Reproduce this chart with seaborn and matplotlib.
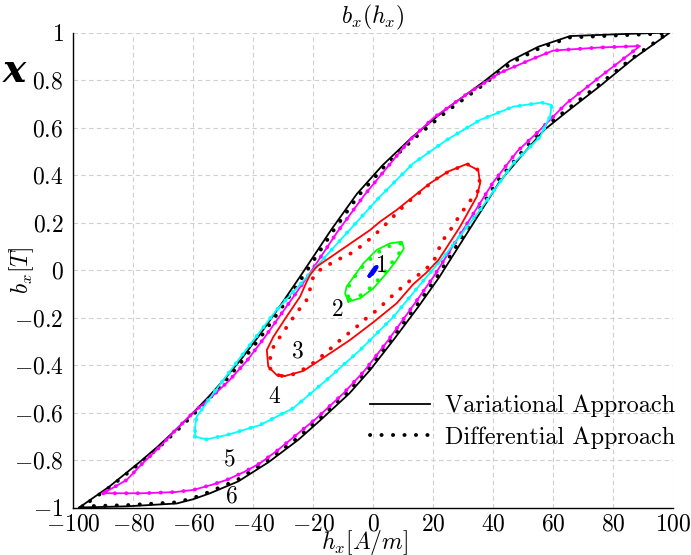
import numpy as np
import pandas as pd
import matplotlib
matplotlib.use("Agg")
import matplotlib.pyplot as plt
import seaborn as sns
from matplotlib.lines import Line2D

# ---------------- data ----------------
# loop 6 (black) : ascending branch then descending branch
loop6_h = [-98, -82, -65.5, -60, -54.4, -45, -35, -25, -17, -8, -1, 7, 15, 22, 28, 35, 42, 50, 57, 64.4, 75.6, 86.7, 98.9,
           82, 65.6, 55, 45.6, 36, 24, 13, 3, -5.5, -14, -24, -31, -38, -44, -50, -55, -60, -66, -72, -78, -88, -98]
loop6_b = [-1.0, -0.995, -0.983, -0.965, -0.94, -0.89, -0.81, -0.715, -0.625, -0.52, -0.42, -0.29, -0.155, -0.03, 0.09, 0.23, 0.37, 0.49, 0.59, 0.665, 0.775, 0.89, 1.0,
           0.993, 0.985, 0.94, 0.88, 0.785, 0.675, 0.56, 0.44, 0.32, 0.17, -0.02, -0.15, -0.275, -0.375, -0.465, -0.535, -0.6, -0.675, -0.745, -0.81, -0.912, -1.0]
loop6d_h = [-97, -82, -65.5, -60, -54.8, -45.5, -35.5, -25.5, -17.5, -8.5, -1.5, 6.4, 14.4, 21.4, 27.4, 34.4, 41.4, 49.4, 56.4, 64, 75, 86.3, 98,
            82, 65.5, 55.4, 46.2, 36.6, 24.6, 13.6, 3.6, -4.9, -13.4, -23.4, -30.4, -37.4, -43.5, -49.5, -54.6, -59.6, -65.6, -71.6, -77.6, -87.6, -97]
loop6d_b = [-0.995, -0.99, -0.978, -0.96, -0.935, -0.885, -0.805, -0.71, -0.62, -0.515, -0.415, -0.285, -0.15, -0.025, 0.095, 0.235, 0.375, 0.495, 0.595, 0.67, 0.778, 0.892, 0.996,
            0.988, 0.979, 0.934, 0.874, 0.779, 0.669, 0.554, 0.434, 0.314, 0.164, -0.026, -0.156, -0.28, -0.38, -0.47, -0.54, -0.604, -0.678, -0.748, -0.812, -0.912, -0.996]

# loop 5 (magenta)
loop5_h = [-90, -76.7, -66, -60, -54, -48.9, -43, -37.8, -32, -26.7, -19, -10, -3, 5, 13, 20, 26, 33, 40, 48, 55.6, 64.4, 75.6, 88.9,
           75.6, 60, 53.3, 42.2, 31.1, 20, 12, 4.5, -3, -12, -22, -29, -36, -42, -48, -54, -60, -66, -71.1, -77, -82.2, -90]
loop5_b = [-0.94, -0.94, -0.935, -0.926, -0.905, -0.884, -0.85, -0.814, -0.76, -0.705, -0.625, -0.52, -0.425, -0.295, -0.155, -0.03, 0.09, 0.23, 0.37, 0.5, 0.59, 0.702, 0.814, 0.943,
           0.937, 0.924, 0.89, 0.83, 0.74, 0.64, 0.545, 0.43, 0.315, 0.16, -0.03, -0.155, -0.28, -0.38, -0.465, -0.535, -0.6, -0.675, -0.744, -0.815, -0.884, -0.94]
loop5d_h = loop5_h
loop5d_b = loop5_b

# loop 4 (cyan)
loop4_h = [-59.4, -55.6, -48.9, -37.8, -26.7, -15.6, -4.4, 6.7, 17.8, 24.4, 35.6, 46.7, 55.6, 57.8, 58.9, 59.5,
           56.1, 46.7, 35.6, 24.4, 13.3, 2.2, -8.9, -20, -32.2, -43.3, -53.3, -58.9, -59.4, -59.4]
loop4_b = [-0.702, -0.713, -0.695, -0.653, -0.582, -0.463, -0.337, -0.197, -0.028, 0.07, 0.253, 0.449, 0.561, 0.618, 0.646, 0.695,
           0.705, 0.688, 0.632, 0.547, 0.449, 0.309, 0.155, 0.0, -0.168, -0.351, -0.519, -0.618, -0.66, -0.702]
loop4d_h = loop4_h
loop4d_b = loop4_b

# loop 3 (red)
loop3_h = [-29.4, -23.3, -15.5, -7.8, 0, 7.8, 13.3, 17.8, 21.7, 23.9, 28.9, 34.5, 35.6, 35, 31.1,
           25, 18.9, 7.8, 2.2, -1.1, -10, -18.9, -21.1, -22.2, -24.4, -28.9, -33.3, -35.5, -35, -32.2, -29.4]
loop3_b = [-0.446, -0.425, -0.36, -0.295, -0.22, -0.14, -0.06, -0.01, 0.042, 0.084, 0.182, 0.309, 0.365, 0.42, 0.446,
           0.415, 0.365, 0.253, 0.203, 0.168, 0.091, 0.014, -0.021, -0.049, -0.112, -0.196, -0.281, -0.337, -0.407, -0.442, -0.446]
loop3d_h = [-30.5, -27.2, -23.3, -19.4, -15.5, -11.7, -8.3, -4.4, -1.7, 1.7, 4.4, 8.9, 11.7, 15, 17.8, 20.6, 21.7, 22.8, 25.3, 28.9, 32.2, 35.6, 35.3, 34.5, 31.1,
            27.8, 24.5, 21.3, 18.7, 15.8, 13.1, 10.5, 7.8, 5.3, 2.8, -3, -8.3, -12.2, -15, -17.8, -20, -20.6, -21.1, -22.2, -24.7, -26.9, -28.9, -30.9, -33.1, -35, -33.3, -30.5]
loop3d_b = [-0.446, -0.442, -0.418, -0.386, -0.345, -0.302, -0.267, -0.227, -0.196, -0.165, -0.13, -0.08, -0.05, -0.021, 0.007, 0.049, 0.084, 0.119, 0.161, 0.232, 0.29, 0.344, 0.39, 0.432, 0.446,
            0.428, 0.41, 0.386, 0.361, 0.33, 0.302, 0.274, 0.239, 0.208, 0.175, 0.11, 0.063, 0.042, 0.021, 0.0, -0.028, -0.056, -0.081, -0.126, -0.166, -0.204, -0.241, -0.278, -0.316, -0.4, -0.438, -0.446]

# loop 2 (green)
loop2_h = [-8.3, -4.4, 0, 4.4, 7.8, 10.2, 9.5, 5.5, 1.1, -3.3, -6.1, -8.9, -9.4, -8.3]
loop2_b = [-0.133, -0.119, -0.077, -0.014, 0.042, 0.091, 0.119, 0.112, 0.084, 0.028, -0.021, -0.07, -0.098, -0.133]
loop2d_h = [-7.8, -4.0, 0, 4.0, 7.2, 9.8, 9.0, 5.2, 1.0, -3.3, -6.3, -8.5, -8.8, -7.8]
loop2d_b = [-0.125, -0.105, -0.065, -0.005, 0.048, 0.09, 0.112, 0.1, 0.07, 0.018, -0.03, -0.075, -0.1, -0.125]

# loop 1 (blue)
loop1_h = [-1.3, -0.3, 0.7, 1.2, 0.6, -0.4, -1.3]
loop1_b = [-0.025, -0.018, 0.0, 0.015, 0.012, -0.005, -0.025]
loop1d_h = loop1_h
loop1d_b = loop1_b

loop_colors = ['#000000', '#ff00ff', '#00ffff', '#ff0000', '#00ff00', '#0000ff']

label_text = ['1', '2', '3', '4', '5', '6']
label_h = [3.0, -12.0, -25.0, -33.0, -48.0, -47.0]
label_b = [0.017, -0.17, -0.345, -0.535, -0.80, -0.955]

xticks = [-100, -80, -60, -40, -20, 0, 20, 40, 60, 80, 100]
xtick_labels = ['-100', '-80', '-60', '-40', '-20', '0', '20', '40', '60', '80', '100']
yticks = [-1, -0.8, -0.6, -0.4, -0.2, 0, 0.2, 0.4, 0.6, 0.8, 1]
ytick_labels = ['-1', '-0.8', '-0.6', '-0.4', '-0.2', '0', '0.2', '0.4', '0.6', '0.8', '1']

legend_labels = ['Variational Approach', 'Differential Approach']

# ---------------- style ----------------
plt.rcParams['mathtext.fontset'] = 'cm'
plt.rcParams['font.family'] = 'serif'
plt.rcParams['font.serif'] = ['cmr10', 'DejaVu Serif']
plt.rcParams['axes.unicode_minus'] = False

FS = 17
DOT = (0, (0.05, 2.9))

fig = plt.figure(figsize=(6.91, 5.55), dpi=100)
ax = fig.add_axes([73.3 / 691, 1 - 507.5 / 555, 600 / 691, 475 / 555])

loops = [
    (loop6_h, loop6_b, loop6d_h, loop6d_b),
    (loop5_h, loop5_b, loop5d_h, loop5d_b),
    (loop4_h, loop4_b, loop4d_h, loop4d_b),
    (loop3_h, loop3_b, loop3d_h, loop3d_b),
    (loop2_h, loop2_b, loop2d_h, loop2d_b),
    (loop1_h, loop1_b, loop1d_h, loop1d_b),
]

for i, (hs, bs, hd, bd) in enumerate(loops):
    col = loop_colors[i]
    lw = 2.2 if i == 5 else 1.3
    sns.lineplot(x=hs, y=bs, sort=False, estimator=None, color=col, lw=lw, ax=ax)
    sns.lineplot(x=hd, y=bd, sort=False, estimator=None, color=col, lw=2.8,
                 linestyle=DOT, dash_capstyle='round', ax=ax)

for t, hx, by in zip(label_text, label_h, label_b):
    ax.text(hx, by, t, fontsize=FS, ha='center', va='center')

ax.set_xlim(-100, 100)
ax.set_ylim(-1, 1)
ax.set_xticks(xticks)
ax.set_xticklabels(['$' + s + '$' for s in xtick_labels], fontsize=FS)
ax.set_yticks(yticks)
ax.set_yticklabels(['$' + s + '$' for s in ytick_labels], fontsize=FS)
ax.tick_params(length=0)
ax.tick_params(axis='y', pad=7)
ax.tick_params(axis='x', pad=4)

for s in ['top', 'right']:
    ax.spines[s].set_visible(False)
for s in ['left', 'bottom']:
    ax.spines[s].set_color('black')
    ax.spines[s].set_linewidth(1.0)

ax.grid(True, linestyle=(0, (4, 3)), color='#cfcfcf', linewidth=0.8)
ax.set_axisbelow(True)

ax.set_title('$b_x(h_x)$', fontsize=FS, pad=3)
ax.set_xlabel('$h_x[A/m]$', fontsize=FS)
ax.xaxis.set_label_coords(0.486, -0.044)
ax.set_ylabel('$b_x[T]$', fontsize=FS)
ax.yaxis.set_label_coords(-0.062, 0.5)

handles = [Line2D([], [], color='black', lw=1.3),
           Line2D([], [], color='black', lw=2.8, linestyle=DOT, dash_capstyle='round')]
ax.legend(handles, legend_labels, loc='upper left', bbox_to_anchor=(0.494, 0.237),
          frameon=False, fontsize=17.5, handlelength=2.5, handletextpad=0.6,
          labelspacing=0.36, borderpad=0, borderaxespad=0)

fig.text(26 / 691, 0.872, 'x', fontsize=28, fontweight='bold', fontstyle='italic',
         family='DejaVu Serif', ha='right', va='center')

fig.savefig('out.png', dpi=100)
